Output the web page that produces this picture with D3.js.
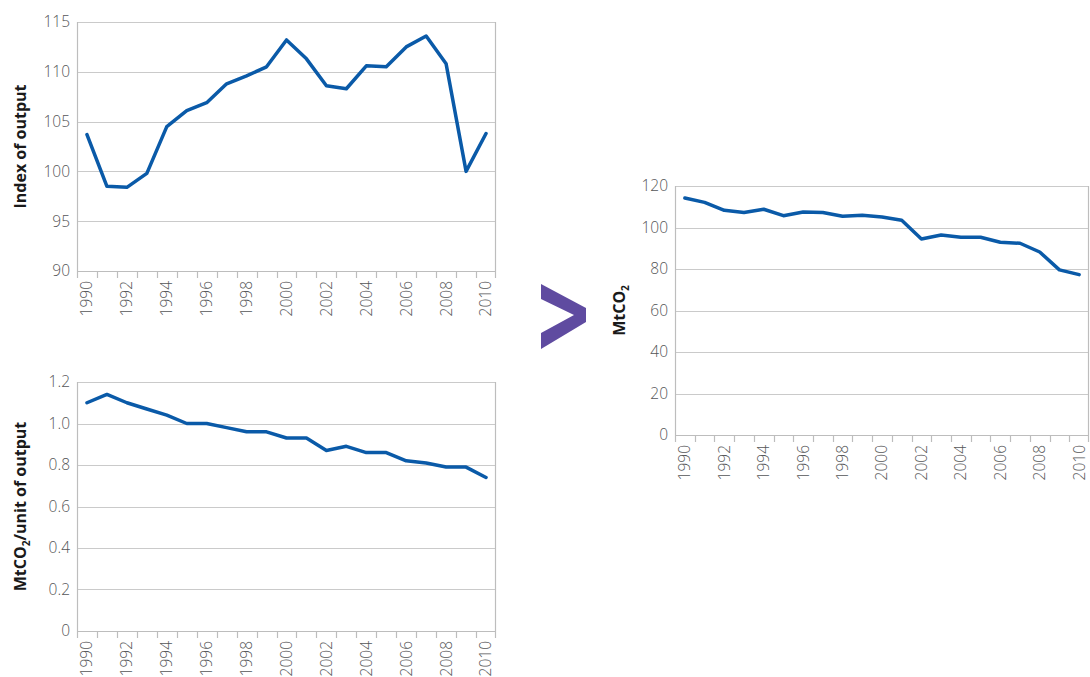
<!DOCTYPE html>
<html>
<head>
<meta charset="utf-8">
<script src="https://cdn.jsdelivr.net/npm/d3@7"></script>
<style>
  html, body { margin: 0; padding: 0; background: #fff; }
  svg { display: block; }
  .tick-label { font-family: "Open Sans", "Noto Sans", sans-serif; font-weight: 300; font-size: 15.5px; fill: #555658; }
  .axis-title { font-family: "Open Sans", "Noto Sans", sans-serif; font-weight: 700; font-size: 16px; fill: #1a1a1a; }
</style>
</head>
<body>
<svg id="chart" width="1090" height="677"></svg>
<script>
// Years shared by all three panels
const years = d3.range(1990, 2011);
const yearLabels = years.filter(y => y % 2 === 0);

// Index of output (1990 base)
const outputIndex = [103.7, 98.5, 98.4, 99.8, 104.5, 106.1, 106.9, 108.8, 109.6, 110.5,
                     113.2, 111.3, 108.6, 108.3, 110.6, 110.5, 112.5, 113.6, 110.8, 100.0, 103.8];

// Emissions intensity, MtCO2 per unit of output
const intensity = [1.10, 1.14, 1.10, 1.07, 1.04, 1.00, 1.00, 0.98, 0.96, 0.96,
                   0.93, 0.93, 0.87, 0.89, 0.86, 0.86, 0.82, 0.81, 0.79, 0.79, 0.74];

// Total emissions, MtCO2
const emissions = [114.2, 112.1, 108.3, 107.2, 108.8, 105.7, 107.5, 107.2, 105.4, 105.9,
                   105.1, 103.5, 94.5, 96.4, 95.3, 95.3, 92.9, 92.4, 88.2, 79.6, 77.3];

// Y tick values per panel
const outputTicks = [90, 95, 100, 105, 110, 115];
const intensityTicks = [0, 0.2, 0.4, 0.6, 0.8, 1.0, 1.2];
const emissionsTicks = [0, 20, 40, 60, 80, 100, 120];

const svg = d3.select("#chart");
const lineColor = "#0a5aa8";
const gridColor = "#cacaca";
const axisColor = "#bdbdbd";

function drawPanel(opts) {
  const { left, right, top, bottom, values, domain, ticks, fmt, titleX, title } = opts;
  const g = svg.append("g");

  const x = d3.scaleBand().domain(years).range([left, right]).padding(0);
  const y = d3.scaleLinear().domain(domain).range([bottom, top]);

  // Horizontal gridlines
  g.selectAll("line.grid").data(ticks).join("line")
    .attr("x1", left).attr("x2", right)
    .attr("y1", d => Math.round(y(d)) + 0.5).attr("y2", d => Math.round(y(d)) + 0.5)
    .attr("stroke", d => d === domain[0] ? axisColor : gridColor)
    .attr("stroke-width", 1.2);

  // Left axis line and right frame edge
  g.append("line").attr("x1", left + 0.5).attr("x2", left + 0.5)
    .attr("y1", top).attr("y2", bottom + 7)
    .attr("stroke", axisColor).attr("stroke-width", 1.2);
  g.append("line").attr("x1", right - 0.5).attr("x2", right - 0.5)
    .attr("y1", top).attr("y2", bottom + 7)
    .attr("stroke", axisColor).attr("stroke-width", 1.2);

  // Tick marks at band boundaries
  const bounds = years.map(d => x(d)).slice(1);
  g.selectAll("line.xtick").data(bounds).join("line")
    .attr("x1", d => Math.round(d) + 0.5).attr("x2", d => Math.round(d) + 0.5)
    .attr("y1", bottom).attr("y2", bottom + 7)
    .attr("stroke", axisColor).attr("stroke-width", 1.2);

  // Y tick labels
  g.selectAll("text.ylab").data(ticks).join("text")
    .attr("class", "tick-label")
    .attr("x", left - 7).attr("y", d => y(d))
    .attr("dy", "0.35em")
    .attr("text-anchor", "end")
    .text(fmt);

  // X tick labels, rotated
  g.selectAll("text.xlab").data(yearLabels).join("text")
    .attr("class", "tick-label")
    .attr("text-anchor", "end")
    .attr("transform", d => `translate(${x(d) + x.bandwidth() / 2},${bottom + 10}) rotate(-90)`)
    .attr("dy", "0.35em")
    .text(d => d);

  // Series line
  const line = d3.line()
    .x((d, i) => x(years[i]) + x.bandwidth() / 2)
    .y(d => y(d));
  g.append("path").datum(values)
    .attr("d", line)
    .attr("fill", "none")
    .attr("stroke", lineColor)
    .attr("stroke-width", 3.5)
    .attr("stroke-linejoin", "round")
    .attr("stroke-linecap", "round");

  // Axis title
  const t = g.append("text")
    .attr("class", "axis-title")
    .attr("text-anchor", "middle")
    .attr("transform", `translate(${titleX},${(top + bottom) / 2}) rotate(-90)`)
    .attr("dy", "0.35em");
  title(t);
}

drawPanel({
  left: 77, right: 496, top: 22, bottom: 271,
  values: outputIndex, domain: [90, 115], ticks: outputTicks,
  fmt: d => d, titleX: 20,
  title: t => t.text("Index of output")
});

drawPanel({
  left: 77, right: 496, top: 382, bottom: 631,
  values: intensity, domain: [0, 1.2], ticks: intensityTicks,
  fmt: d => d === 0 ? "0" : d3.format(".1f")(d), titleX: 20,
  title: t => {
    t.append("tspan").text("MtCO");
    t.append("tspan").attr("font-size", "10px").attr("dy", "4").text("2");
    t.append("tspan").attr("dy", "-4").text("/unit of output");
  }
});

drawPanel({
  left: 675, right: 1089, top: 186, bottom: 435,
  values: emissions, domain: [0, 120], ticks: emissionsTicks,
  fmt: d => d, titleX: 619,
  title: t => {
    t.append("tspan").text("MtCO");
    t.append("tspan").attr("font-size", "10px").attr("dy", "4").text("2");
  }
});

// Chevron linking the two left panels to the total
const chevron = [[541, 284], [586, 308], [586, 322], [541, 349], [541, 333], [574, 315], [541, 299]];
svg.append("polygon")
  .attr("points", chevron.map(p => p.join(",")).join(" "))
  .attr("fill", "#5f4ba0");
</script>
</body>
</html>
